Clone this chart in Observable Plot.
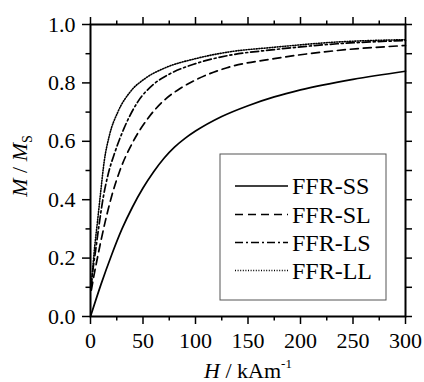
<!DOCTYPE html>
<html>
<head>
<meta charset="utf-8">
<script src="https://cdn.jsdelivr.net/npm/d3@7"></script>
<script src="https://cdn.jsdelivr.net/npm/@observablehq/plot@0.6"></script>
<style>
  html, body { margin: 0; padding: 0; background: white; }
  #chart svg { display: block; }
  #chart svg text { font-family: "Liberation Serif", "Times New Roman", Times, "DejaVu Serif", serif; }
</style>
</head>
<body>
<div id="chart"></div>
<script>
// ---- data ----
const seriesNames = ["FFR-SS", "FFR-SL", "FFR-LS", "FFR-LL"];

const H_SS = [0, 10, 20, 30, 40, 50, 60, 70, 80, 90, 100, 125, 150, 175, 200, 250, 300];
const M_SS = [0, 0.11, 0.21, 0.30, 0.375, 0.44, 0.495, 0.542, 0.58, 0.61, 0.635, 0.685, 0.722, 0.752, 0.776, 0.812, 0.84];

const H_SL = [0.8, 3, 6, 10, 15, 20, 28, 40, 55, 70, 85, 100, 130, 175, 235, 300];
const M_SL = [0.09, 0.135, 0.19, 0.26, 0.34, 0.41, 0.50, 0.595, 0.68, 0.74, 0.78, 0.81, 0.852, 0.883, 0.911, 0.928];

const H_LS = [0.6, 2, 5, 8, 12, 17, 23, 32, 45, 60, 75, 100, 130, 175, 235, 300];
const M_LS = [0.1, 0.15, 0.23, 0.31, 0.405, 0.49, 0.56, 0.645, 0.735, 0.795, 0.83, 0.866, 0.893, 0.914, 0.934, 0.945];

const H_LL = [0.4, 2, 4, 6.5, 9.5, 13, 18, 26, 38, 52, 70, 100, 130, 175, 235, 300];
const M_LL = [0.1, 0.16, 0.24, 0.32, 0.42, 0.53, 0.62, 0.70, 0.77, 0.815, 0.85, 0.883, 0.905, 0.922, 0.94, 0.948];

const xMajor = [0, 50, 100, 150, 200, 250, 300];
const xMinor = [25, 75, 125, 175, 225, 275];
const yMajor = [0, 0.2, 0.4, 0.6, 0.8, 1.0];
const yMinor = [0.1, 0.3, 0.5, 0.7, 0.9];

const dashes = ["none", "8,5", "8,3,2,3", "1,1.6"];

const toRows = (H, M) => H.map((h, i) => ({H: h, M: M[i]}));
const seriesData = [toRows(H_SS, M_SS), toRows(H_SL, M_SL), toRows(H_LS, M_LS), toRows(H_LL, M_LL)];

const FONT = "Liberation Serif, Times New Roman, Times, DejaVu Serif, serif";
const blank = () => "";

const chart = Plot.plot({
  width: 424,
  height: 382,
  marginLeft: 90,
  marginRight: 19,
  marginTop: 24,
  marginBottom: 66,
  x: {domain: [0, 300]},
  y: {domain: [0, 1]},
  style: {fontFamily: FONT, fontSize: "22px", color: "black", background: "white", overflow: "visible"},
  marks: [
    ...seriesData.map((d, i) => Plot.line(d, {x: "H", y: "M", stroke: "black", strokeWidth: i === 3 ? 1.6 : 1.7, strokeDasharray: dashes[i], curve: "monotone-x"})),
    Plot.frame({stroke: "black", strokeWidth: 2}),
    Plot.axisX({anchor: "bottom", ticks: xMajor, tickSize: 8, tickPadding: 8, strokeWidth: 1.5, label: null, tickFormat: d => d, fontSize: 22}),
    Plot.axisX({anchor: "bottom", ticks: xMinor, tickSize: 4.5, strokeWidth: 1.5, label: null, tickFormat: blank}),
    Plot.axisX({anchor: "top", ticks: xMajor, tickSize: 8, strokeWidth: 1.5, label: null, tickFormat: blank}),
    Plot.axisX({anchor: "top", ticks: xMinor, tickSize: 4.5, strokeWidth: 1.5, label: null, tickFormat: blank}),
    Plot.axisY({anchor: "left", ticks: yMajor, tickSize: 8, tickPadding: 7, strokeWidth: 1.5, label: null, tickFormat: d3.format(".1f"), fontSize: 22}),
    Plot.axisY({anchor: "left", ticks: yMinor, tickSize: 4.5, strokeWidth: 1.5, label: null, tickFormat: blank}),
    Plot.axisY({anchor: "right", ticks: yMajor, tickSize: 6, strokeWidth: 1.5, label: null, tickFormat: blank}),
    Plot.axisY({anchor: "right", ticks: yMinor, tickSize: 6, strokeWidth: 1.5, label: null, tickFormat: blank})
  ]
});

document.getElementById("chart").appendChild(chart);

const svg = d3.select(chart);

// x axis title: H / kAm^-1
const xt = svg.append("text")
  .attr("x", 248).attr("y", 378)
  .attr("text-anchor", "middle")
  .attr("font-family", FONT).attr("font-size", 22).attr("fill", "black");
xt.append("tspan").attr("font-style", "italic").text("H");
xt.append("tspan").text(" / kAm");
xt.append("tspan").attr("dy", -10).attr("font-size", 13).text("-1");

// y axis title: M / M_S
const yt = svg.append("text")
  .attr("transform", "translate(27,166) rotate(-90)")
  .attr("text-anchor", "middle")
  .attr("font-family", FONT).attr("font-size", 22).attr("fill", "black");
yt.append("tspan").attr("font-style", "italic").text("M");
yt.append("tspan").text(" / ");
yt.append("tspan").attr("font-style", "italic").text("M");
yt.append("tspan").attr("dy", 5).attr("font-size", 14).text("S");

// legend
const lg = svg.append("g");
lg.append("rect").attr("x", 220).attr("y", 154).attr("width", 166).attr("height", 146)
  .attr("fill", "white").attr("stroke", "#555").attr("stroke-width", 1);
const lineYs = [186, 214.5, 242.5, 270.5];
seriesNames.forEach((name, i) => {
  lg.append("line").attr("x1", 235).attr("x2", 288).attr("y1", lineYs[i]).attr("y2", lineYs[i])
    .attr("stroke", "black").attr("stroke-width", i === 3 ? 1.4 : 1.7)
    .attr("stroke-dasharray", dashes[i] === "none" ? null : dashes[i]);
  lg.append("text").attr("x", 292).attr("y", lineYs[i] + 8.3)
    .attr("text-anchor", "start")
    .attr("font-family", FONT).attr("font-size", 24).attr("fill", "black").text(name);
});
</script>
</body>
</html>
